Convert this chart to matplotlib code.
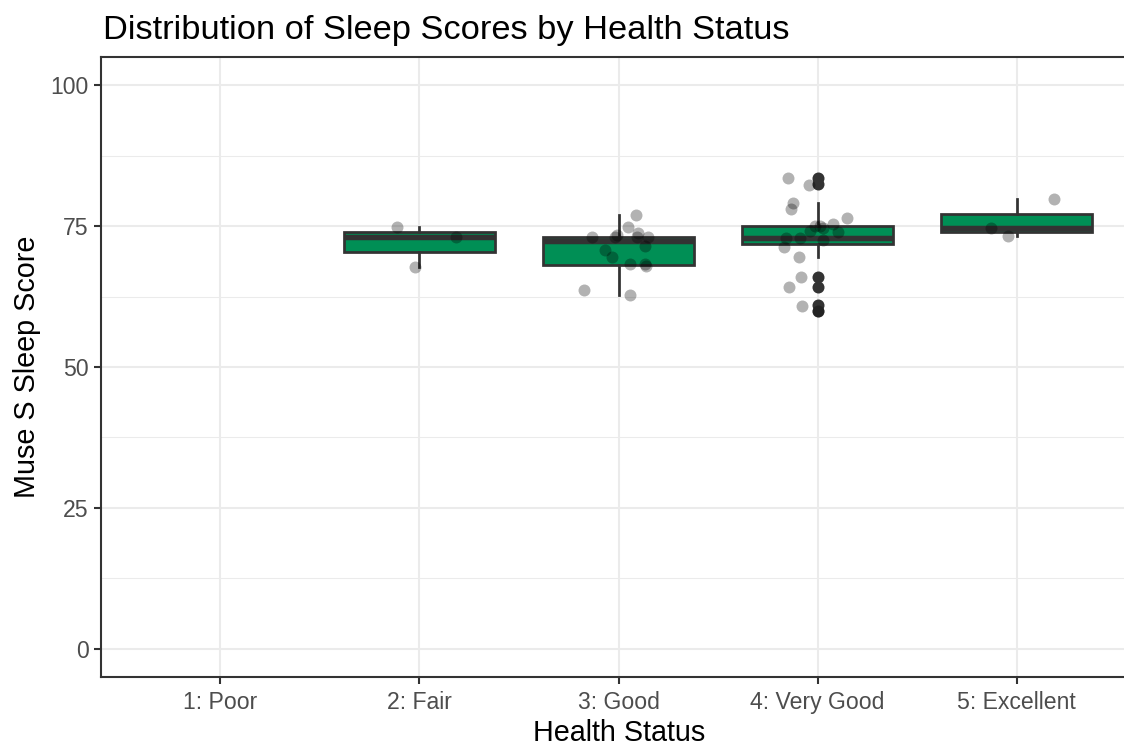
import matplotlib
matplotlib.use("Agg")
import matplotlib.pyplot as plt
from matplotlib.ticker import FixedLocator

plt.rcParams["font.family"] = ["Liberation Sans", "DejaVu Sans"]

# ---- data -------------------------------------------------------------
categories = ["1: Poor", "2: Fair", "3: Good", "4: Very Good", "5: Excellent"]

# individual sleep scores per health status (Poor has no observations)
scores_poor = []
scores_fair = [74.8, 67.8, 73.0]
scores_good = [77.0, 74.9, 73.0, 73.0, 73.5, 73.75, 73.0, 73.0, 71.5,
               70.7, 69.6, 68.3, 68.2, 67.9, 63.75, 62.8]
scores_very_good = [83.6, 82.3, 79.1, 78.1, 76.4, 75.4, 75.1, 75.1, 74.6,
                    73.9, 74.1, 72.9, 72.9, 72.5, 71.3, 69.6, 65.9, 64.2,
                    60.9, 60.0]
scores_excellent = [79.8, 74.6, 73.2]

# horizontal jitter of each observation (category units)
jitter_fair = [-0.114, -0.022, 0.186]
jitter_good = [0.089, 0.050, -0.132, -0.020, -0.010, 0.100, 0.095, 0.146,
               0.131, -0.067, -0.034, 0.060, 0.131, 0.136, -0.174, 0.060]
jitter_very_good = [-0.149, -0.044, -0.124, -0.132, 0.149, 0.077, -0.015,
                    0.010, 0.027, 0.102, -0.040, -0.090, -0.157, 0.027,
                    -0.166, -0.094, -0.082, -0.141, -0.077, 0.0]
jitter_excellent = [0.187, -0.127, -0.044]

# box summaries: Fair, Good, Very Good, Excellent
box_q1 = [70.4, 68.1, 71.8, 73.9]
box_median = [73.0, 72.3, 72.8, 74.6]
box_q3 = [73.9, 73.0, 75.1, 77.2]
box_whislo = [67.8, 62.8, 69.6, 73.2]
box_whishi = [74.8, 77.0, 79.1, 79.8]
box_outliers = [[], [], [83.5, 82.4, 65.9, 64.2, 61.0, 60.0], []]

yticks = [0, 25, 50, 75, 100]
yminor = [12.5, 37.5, 62.5, 87.5]

# ---- figure -----------------------------------------------------------
DPI = 188
fig = plt.figure(figsize=(1124 / DPI, 747 / DPI), dpi=DPI)
ax = fig.add_axes([101 / 1124, 1 - 677 / 747, 1035 / 1124, 620 / 747])

grid_col = "#EBEBEB"
dark = "#333333"
green = "#008F55"

positions = [i + 1 for i in range(len(categories))]
box_positions = positions[1:]

stats = []
for q1, med, q3, lo, hi, fl in zip(box_q1, box_median, box_q3,
                                   box_whislo, box_whishi, box_outliers):
    stats.append(dict(q1=q1, med=med, q3=q3, whislo=lo, whishi=hi, fliers=fl))

ax.bxp(stats, positions=box_positions, widths=0.76, patch_artist=True,
       showcaps=False, zorder=2,
       boxprops=dict(facecolor=green, edgecolor=dark, linewidth=1.05),
       medianprops=dict(color=dark, linewidth=2.1, solid_capstyle="butt"),
       whiskerprops=dict(color=dark, linewidth=1.05),
       flierprops=dict(marker="o", markerfacecolor=dark, markeredgecolor=dark,
                       markersize=4.6, markeredgewidth=0))

groups = [
    (2, scores_fair, jitter_fair),
    (3, scores_good, jitter_good),
    (4, scores_very_good, jitter_very_good),
    (5, scores_excellent, jitter_excellent),
]
for pos, vals, jit in groups:
    xs = [pos + j for j in jit]
    ax.scatter(xs, vals, s=21, color="black", alpha=0.3, linewidths=0,
               zorder=3)

# ---- axes styling -----------------------------------------------------
ax.set_xlim(0.4, 5.6)
ax.set_ylim(-5, 105)
ax.set_xticks(positions)
ax.set_xticklabels(categories)
ax.set_yticks(yticks)
ax.yaxis.set_minor_locator(FixedLocator(yminor))

ax.set_axisbelow(True)
ax.grid(True, which="major", color=grid_col, linewidth=0.8)
ax.grid(True, which="minor", axis="y", color=grid_col, linewidth=0.4)
ax.tick_params(which="minor", length=0)
ax.tick_params(which="major", length=2.75, width=0.8, color=dark,
               labelsize=8.8, labelcolor="#4D4D4D")
ax.tick_params(axis="x", pad=2.5)
ax.tick_params(axis="y", pad=2.0)

for sp in ax.spines.values():
    sp.set_color(dark)
    sp.set_linewidth(0.8)
ax.spines["right"].set_visible(False)

fig.text(103 / 1124, 1 - 38.5 / 747, "Distribution of Sleep Scores by Health Status",
         fontsize=13.2, color="black", ha="left", va="baseline")
fig.text(619 / 1124, 1 - 741 / 747, "Health Status", fontsize=11,
         color="black", ha="center", va="baseline")
fig.text(27 / 1124, 1 - 367 / 747, "Muse S Sleep Score", fontsize=11,
         color="black", ha="center", va="center", rotation=90)

fig.savefig("out.png", dpi=DPI)
